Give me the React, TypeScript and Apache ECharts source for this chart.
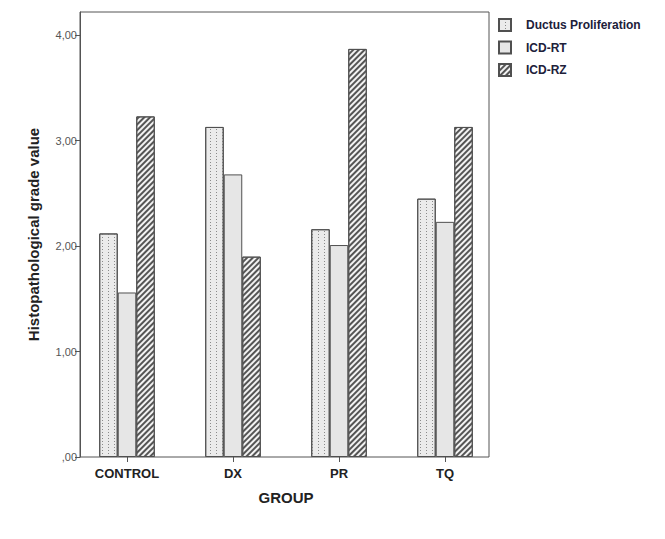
import React, { useEffect, useRef } from "react";
import * as echarts from "echarts";

const categories = ["CONTROL", "DX", "PR", "TQ"];
const ductusProliferation = [2.12, 3.13, 2.16, 2.45];
const icdRT = [1.56, 2.68, 2.01, 2.23];
const icdRZ = [3.23, 1.9, 3.87, 3.13];
const yTicks = [0, 1, 2, 3, 4];
const seriesNames = ["Ductus Proliferation", "ICD-RT", "ICD-RZ"];

const FONT = "'Liberation Sans', Arial, sans-serif";

export default function App() {
  const ref = useRef<HTMLDivElement>(null);
  useEffect(() => {
    if (!ref.current) return;
    const chart = echarts.init(ref.current, undefined, { renderer: "svg" });
    const border = { borderColor: "#505050", borderWidth: 1 };
    chart.setOption({
      animation: false,
      backgroundColor: "#ffffff",
      textStyle: { fontFamily: FONT },
      grid: { left: 74, right: 167, top: 12, bottom: 82, containLabel: false },
      legend: {
        orient: "vertical",
        left: 493,
        top: 13,
        icon: "rect",
        itemWidth: 12,
        itemHeight: 12,
        itemGap: 8.5,
        data: seriesNames,
        textStyle: {
          fontFamily: FONT,
          fontSize: 12,
          fontWeight: "bold",
          color: "#20203a",
          padding: [0, 0, 0, 10],
        },
      },
      graphic: [
        {
          type: "rect",
          shape: { x: 80, y: 12, width: 409, height: 445 },
          style: { fill: "none", stroke: "#555555", lineWidth: 1 },
          z: 1,
          silent: true,
        },
      ],
      xAxis: {
        type: "category",
        data: categories,
        name: "GROUP",
        nameLocation: "middle",
        nameGap: 33,
        nameTextStyle: { fontFamily: FONT, fontSize: 15, fontWeight: "bold", color: "#222" },
        axisLine: { show: false },
        axisTick: { show: true, alignWithLabel: true, length: 5, lineStyle: { color: "#555" } },
        axisLabel: { fontFamily: FONT, fontSize: 13, fontWeight: "bold", color: "#222", margin: 10 },
        splitLine: { show: false },
      },
      yAxis: {
        type: "value",
        min: 0,
        max: 4.22,
        interval: 1,
        offset: -6,
        name: "Histopathological grade value",
        nameLocation: "middle",
        nameGap: 39,
        nameTextStyle: { fontFamily: FONT, fontSize: 15, fontWeight: "bold", color: "#222" },
        axisLine: { show: true, lineStyle: { color: "#555" } },
        axisTick: { show: true, length: 5, customValues: yTicks, lineStyle: { color: "#555" } },
        axisLabel: {
          customValues: yTicks,
          fontFamily: FONT,
          fontSize: 11,
          color: "#555",
          margin: 3,
          formatter: (v: number) => (v === 0 ? ",00" : v.toFixed(2).replace(".", ",")),
        },
        splitLine: { show: false },
      },
      series: [
        {
          name: seriesNames[0],
          type: "bar",
          data: ductusProliferation,
          barGap: "0%",
          barCategoryGap: "47.6%",
          itemStyle: {
            color: "#ebebeb",
            ...border,
            decal: {
              symbol: "rect",
              symbolSize: 1,
              dashArrayX: [1, 5],
              dashArrayY: [1, 2],
              color: "#8a8a8a",
            },
          },
        },
        {
          name: seriesNames[1],
          type: "bar",
          data: icdRT,
          itemStyle: { color: "#e6e6e6", ...border },
        },
        {
          name: seriesNames[2],
          type: "bar",
          data: icdRZ,
          itemStyle: {
            color: "#f2f2f2",
            ...border,
            decal: {
              symbol: "rect",
              symbolSize: 1,
              dashArrayX: [1, 0],
              dashArrayY: [2, 2],
              rotation: -Math.PI / 4,
              color: "#555555",
            },
          },
        },
      ],
    });
    return () => chart.dispose();
  }, []);
  return (
    <div
      ref={ref}
      style={{ position: "fixed", left: 0, top: 0, width: 665, height: 539 }}
    />
  );
}
